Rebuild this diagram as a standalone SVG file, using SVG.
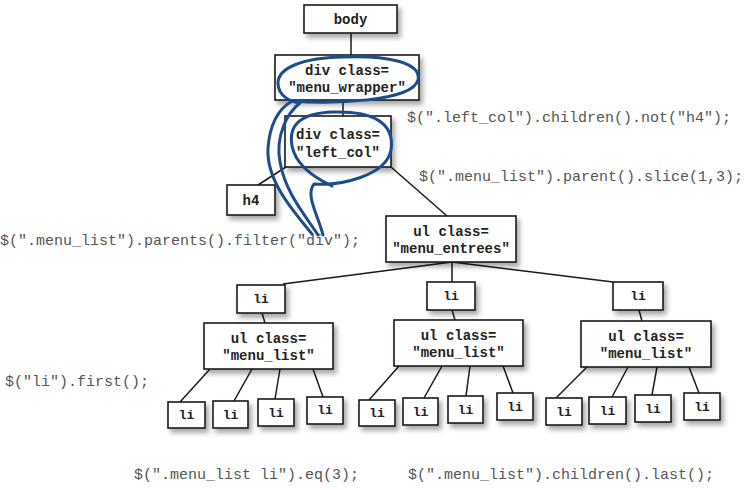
<svg xmlns="http://www.w3.org/2000/svg" width="750" height="490" viewBox="0 0 750 490">
<defs>
<filter id="sh" x="-30%" y="-30%" width="170%" height="180%">
<feDropShadow dx="3" dy="4" stdDeviation="2.5" flood-color="#000" flood-opacity="0.35"/>
</filter>
<style>
.box{fill:#fff;stroke:#1a1a1a;stroke-width:1.6;filter:url(#sh)}
.lbl{font-family:"Liberation Mono","Courier New",monospace;font-weight:bold;font-size:14px;fill:#222;text-anchor:middle}
.li{font-size:13px}
.code{font-family:"Liberation Mono","Courier New",monospace;font-size:15px;fill:#555}
.con line{stroke:#1a1a1a;stroke-width:1.5}
.lasso{fill:none;stroke:#1b4d8c;stroke-width:3;stroke-linecap:round;stroke-linejoin:round}
</style>
</defs>
<rect width="750" height="490" fill="#fff"/>
<g id="connectors" class="con">
<line x1="351" y1="33" x2="351" y2="55"/>
<line x1="343" y1="100" x2="343" y2="116"/>
<line x1="286" y1="167" x2="258" y2="185"/>
<line x1="391" y1="167" x2="447" y2="216"/>
<line x1="452" y1="262" x2="283" y2="284"/>
<line x1="452" y1="262" x2="452" y2="282"/>
<line x1="452" y1="262" x2="613" y2="282"/>
<line x1="262" y1="313" x2="265" y2="323"/>
<line x1="452" y1="310" x2="455" y2="320"/>
<line x1="639" y1="310" x2="642" y2="321"/>
<line x1="210" y1="369" x2="180" y2="402"/>
<line x1="252" y1="369" x2="234" y2="401"/>
<line x1="280" y1="369" x2="275" y2="399"/>
<line x1="313" y1="369" x2="323" y2="397"/>
<line x1="399" y1="366" x2="369" y2="400"/>
<line x1="442" y1="366" x2="424" y2="398"/>
<line x1="470" y1="366" x2="466" y2="396"/>
<line x1="503" y1="366" x2="513" y2="393"/>
<line x1="587" y1="367" x2="556" y2="398"/>
<line x1="628" y1="367" x2="612" y2="397"/>
<line x1="657" y1="367" x2="652" y2="395"/>
<line x1="689" y1="367" x2="699" y2="393"/>
</g>
<g id="body"><rect class="box" x="304" y="5" width="93" height="28"/><text class="lbl" x="350.5" y="24">body</text></g>
<g id="menu_wrapper"><rect class="box" x="275" y="55" width="144" height="45"/><text class="lbl" x="347" y="75">div class=</text><text class="lbl" x="347" y="92">"menu_wrapper"</text></g>
<g id="left_col"><rect class="box" x="285" y="116" width="106" height="51"/><text class="lbl" x="338" y="139">div class=</text><text class="lbl" x="338" y="157">"left_col"</text></g>
<g id="h4"><rect class="box" x="227" y="185" width="48" height="30"/><text class="lbl" x="251" y="205">h4</text></g>
<g id="menu_entrees"><rect class="box" x="386" y="216" width="130" height="46"/><text class="lbl" x="451" y="236">ul class=</text><text class="lbl" x="451" y="253">"menu_entrees"</text></g>
<g id="li1"><rect class="box" x="237" y="285" width="48" height="28"/><text class="lbl li" x="261" y="303">li</text></g>
<g id="li2"><rect class="box" x="427" y="282" width="48" height="28"/><text class="lbl li" x="451" y="300">li</text></g>
<g id="li3"><rect class="box" x="613" y="282" width="50" height="28"/><text class="lbl li" x="638" y="300">li</text></g>
<g id="menu_list1"><rect class="box" x="204" y="323" width="129" height="46"/><text class="lbl" x="268.5" y="343">ul class=</text><text class="lbl" x="268.5" y="360">"menu_list"</text></g>
<g id="menu_list2"><rect class="box" x="394" y="320" width="129" height="46"/><text class="lbl" x="458.5" y="340">ul class=</text><text class="lbl" x="458.5" y="357">"menu_list"</text></g>
<g id="menu_list3"><rect class="box" x="581" y="321" width="130" height="46"/><text class="lbl" x="646" y="341">ul class=</text><text class="lbl" x="646" y="358">"menu_list"</text></g>
<g id="leaf1a"><rect class="box" x="168" y="402" width="37" height="26"/><text class="lbl li" x="186.5" y="419">li</text></g>
<g id="leaf1b"><rect class="box" x="213" y="401" width="35" height="27"/><text class="lbl li" x="230.5" y="419">li</text></g>
<g id="leaf1c"><rect class="box" x="258" y="399" width="36" height="27"/><text class="lbl li" x="276" y="417">li</text></g>
<g id="leaf1d"><rect class="box" x="307" y="397" width="36" height="27"/><text class="lbl li" x="325" y="414">li</text></g>
<g id="leaf2a"><rect class="box" x="359" y="400" width="36" height="26"/><text class="lbl li" x="377" y="417">li</text></g>
<g id="leaf2b"><rect class="box" x="403" y="398" width="35" height="27"/><text class="lbl li" x="420.5" y="416">li</text></g>
<g id="leaf2c"><rect class="box" x="448" y="396" width="35" height="27"/><text class="lbl li" x="465.5" y="414">li</text></g>
<g id="leaf2d"><rect class="box" x="497" y="393" width="36" height="27"/><text class="lbl li" x="515" y="411">li</text></g>
<g id="leaf3a"><rect class="box" x="546" y="398" width="36" height="27"/><text class="lbl li" x="564" y="416">li</text></g>
<g id="leaf3b"><rect class="box" x="589" y="397" width="37" height="27"/><text class="lbl li" x="607.5" y="415">li</text></g>
<g id="leaf3c"><rect class="box" x="635" y="395" width="36" height="27"/><text class="lbl li" x="653" y="413">li</text></g>
<g id="leaf3d"><rect class="box" x="684" y="393" width="36" height="27"/><text class="lbl li" x="702" y="411">li</text></g>
<g id="lassos">
<path class="lasso" d="M312 234 C292 210 266 180 268 148 C270 122 280 108 292 101 C330 104 412 102 418 80 C422 62 385 55 342 57 C302 58 278 68 278 83 C278 97 292 102 300 103 C288 112 275 135 280 162 C285 192 305 215 318 235"/>
<path class="lasso" d="M323 235 C318 215 305 195 314 184 C340 186 386 176 391 150 C395 122 372 111 333 112 C302 113 288 124 292 146 C296 166 315 178 332 186"/>
</g>
<g id="code">
<text class="code" x="407" y="122">$(".left_col").children().not("h4");</text>
<text class="code" x="419" y="181">$(".menu_list").parent().slice(1,3);</text>
<text class="code" x="0" y="245">$(".menu_list").parents().filter("div");</text>
<text class="code" x="5" y="386">$("li").first();</text>
<text class="code" x="134" y="479">$(".menu_list li").eq(3);</text>
<text class="code" x="408" y="479">$(".menu_list").children().last();</text>
</g>
</svg>
